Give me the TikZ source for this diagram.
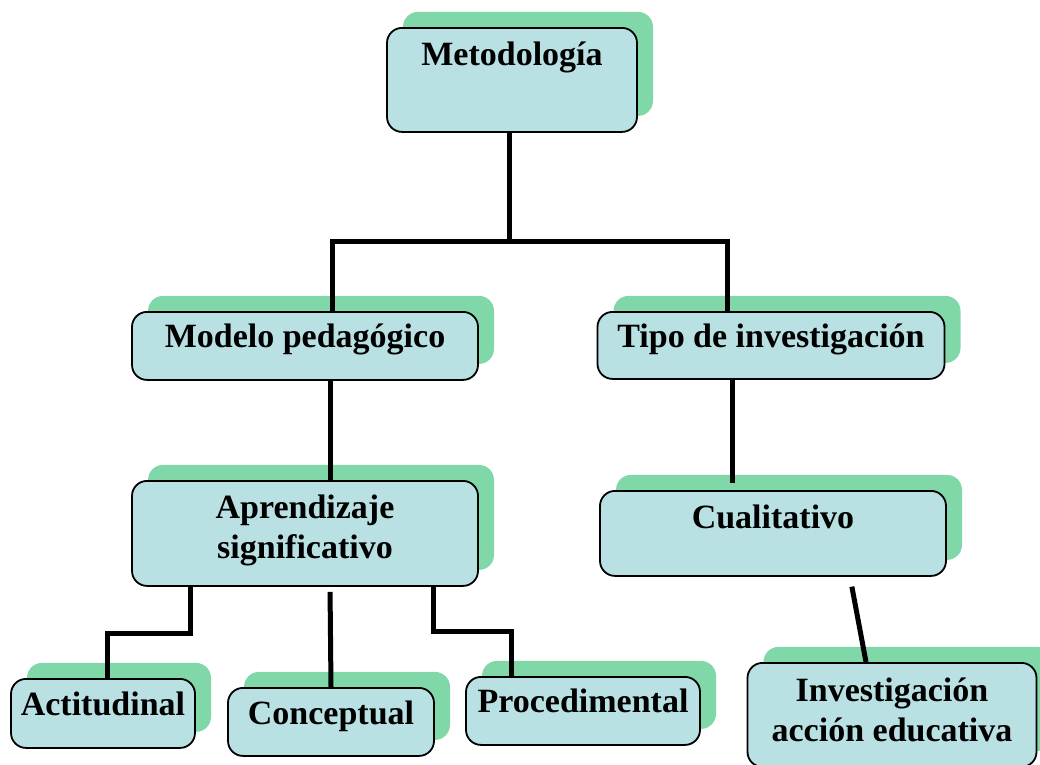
\documentclass[tikz,border=0pt]{standalone}
\usepackage{fontspec}
\setmainfont{Liberation Serif}
\usetikzlibrary{shadows}
\definecolor{cajaazul}{HTML}{B9E0E2}
\definecolor{sombraverde}{HTML}{80D8A8}

\begin{document}
\begin{tikzpicture}[x=1pt,y=-1pt]
        \tikzstyle{every node}=[font=\fontsize{34}{40}\selectfont\bfseries]
        \tikzstyle{caja}=[draw, line width=1.8pt, fill=cajaazul, rounded corners=15pt,
            anchor=north, inner ysep=0pt, inner xsep=4pt, align=center,
            drop shadow={shadow xshift=16pt, shadow yshift=16pt, fill=sombraverde, opacity=1}]
        \tikzstyle{rama}=[line width=5pt]
        \useasboundingbox (0,0) rectangle (1040,764);

        \node[caja, minimum width=250pt, text height=38pt, text depth=66pt] (metodo) at (512,27) {Metodología};
        \node[caja, minimum width=346pt, text height=36pt, text depth=32pt] (modelo) at (305,311) {Modelo pedagógico};
        \node[caja, minimum width=347pt, text height=36pt, text depth=31pt] (tipo) at (771,311) {Tipo de investigación};
        \node[caja, minimum width=346pt, text height=78pt, text depth=27pt] (aprend) at (305,480) {Aprendizaje\\significativo};
        \node[caja, minimum width=346pt, text height=38pt, text depth=47pt] (cuali) at (773,490) {Cualitativo};
        \node[caja, minimum width=184pt, text height=37pt, text depth=32pt] (acti) at (103,678) {Actitudinal};
        \node[caja, minimum width=206pt, text height=37pt, text depth=31pt] (concep) at (331,687) {Conceptual};
        \node[caja, minimum width=234pt, text height=36pt, text depth=32pt] (proced) at (583,676) {Procedimental};
        \node[caja, minimum width=289pt, text height=79pt, text depth=25pt] (invest) at (892,662) {Investigación\\acción educativa};

        % ramas
        \coordinate (ramaIzq) at (332,241);
        \coordinate (ramaDer) at (727,241);
        \draw[rama] ([xshift=-3pt]metodo.south) -- ([xshift=-3pt]metodo.south |- ramaIzq);
        \draw[rama] (ramaIzq |- modelo.north) -- (ramaIzq) -- (ramaDer) -- (ramaDer |- tipo.north);
        \draw[rama] ([xshift=25pt]modelo.south) -- ([xshift=25pt]aprend.north);
        \draw[rama, shorten >=7pt] ([xshift=-39pt]tipo.south) -- ([xshift=-39pt]tipo.south |- cuali.north);
        \draw[rama] ([xshift=-115pt]aprend.south) -- ++(0,47) -| ([xshift=4pt]acti.north);
        \draw[rama, shorten <=5pt] ([xshift=25pt]aprend.south) -- (concep.north);
        \draw[rama] ([xshift=128pt]aprend.south) -- ++(0,45) -| ([xshift=-72pt]proced.north);
        \draw[rama, shorten <=10pt] ([xshift=77pt]cuali.south) -- ([xshift=-26pt]invest.north);
\end{tikzpicture}
\end{document}
